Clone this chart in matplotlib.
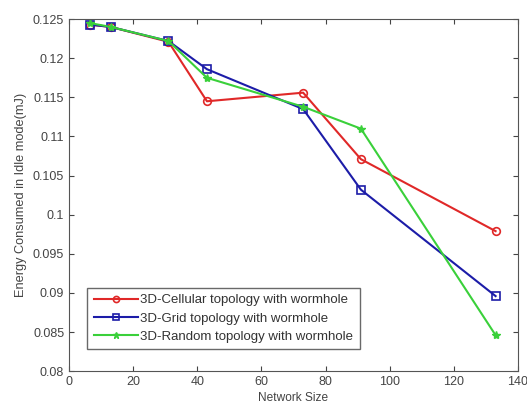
import matplotlib
matplotlib.use('Agg')
import matplotlib.pyplot as plt
from matplotlib.ticker import MultipleLocator

network_size = [6.5, 13, 31, 43, 73, 91, 133]
cellular = [0.1243, 0.1240, 0.1221, 0.1145, 0.1156, 0.1071, 0.0979]
grid = [0.1243, 0.1240, 0.1222, 0.1186, 0.1135, 0.1032, 0.0896]
random_ = [0.1245, 0.1240, 0.1222, 0.1175, 0.1138, 0.1110, 0.0846]

labels = ['3D-Cellular topology with wormhole',
          '3D-Grid topology with wormhole',
          '3D-Random topology with wormhole']
yticks = [0.08, 0.085, 0.09, 0.095, 0.1, 0.105, 0.11, 0.115, 0.12, 0.125]
ytick_labels = ['0.08', '0.085', '0.09', '0.095', '0.1', '0.105',
                '0.11', '0.115', '0.12', '0.125']

plt.rcParams['font.family'] = 'Liberation Sans'

fig = plt.figure(figsize=(5.27, 4.07), dpi=100)
ax = fig.add_axes([0.131, 0.088, 0.852, 0.865])

ax.plot(network_size, cellular, color='#e02828', marker='o', ms=5.5, mfc='none',
        mew=1.2, lw=1.5, label=labels[0])
ax.plot(network_size, grid, color='#1c1ca8', marker='s', ms=5.5, mfc='none',
        mew=1.2, lw=1.5, label=labels[1])
ax.plot(network_size, random_, color='#3ad03a', marker='*', ms=6,
        lw=1.5, label=labels[2])

ax.set_xlim(0, 140)
ax.set_ylim(0.08, 0.125)
ax.xaxis.set_major_locator(MultipleLocator(20))
ax.set_yticks(yticks)
ax.set_yticklabels(ytick_labels)
ax.tick_params(direction='in', top=True, right=True, labelsize=9,
               colors='#444444', length=3.5)
for s in ax.spines.values():
    s.set_color('#555555')

ax.set_xlabel('Network Size', fontsize=8.6, color='#444444', labelpad=3)
ax.set_ylabel('Energy Consumed in Idle mode(mJ)', fontsize=9.2, color='#444444',
              labelpad=4)

leg = ax.legend(loc='lower left', bbox_to_anchor=(0.04, 0.062), fontsize=9.5,
                fancybox=False, edgecolor='#444444', handlelength=3.4,
                borderpad=0.5, labelspacing=0.45, handletextpad=0.15,
                borderaxespad=0, markerscale=0.8)
leg.get_frame().set_linewidth(1.0)
for t in leg.get_texts():
    t.set_color('#333333')

fig.savefig('out.png', dpi=100)
